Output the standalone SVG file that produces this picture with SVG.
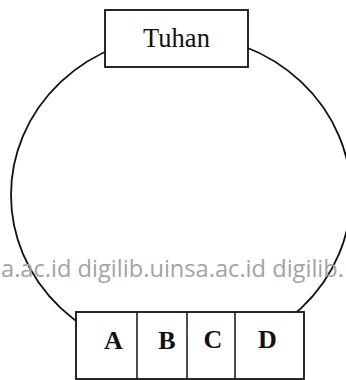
<svg xmlns="http://www.w3.org/2000/svg" width="346" height="380" viewBox="0 0 346 380">
<style>
.ln{fill:none;stroke:#111;stroke-width:1.8}
.bx{fill:#fff;stroke:#111;stroke-width:1.8}
.dv{stroke:#111;stroke-width:1.5}
.t{font-family:"Liberation Serif","Times New Roman",serif;fill:#111;text-anchor:middle}
.lb{font-size:26px;font-weight:bold}
.wm{font-family:"Open Sans","Noto Sans",sans-serif;font-size:23.5px;fill:#a3a3a3}
</style>
<rect width="346" height="380" fill="#fff"/>
<g id="connectors">
<ellipse class="ln" cx="181" cy="195" rx="170" ry="160"/>
</g>
<text class="wm" x="1" y="277" textLength="343" lengthAdjust="spacingAndGlyphs">a.ac.id digilib.uinsa.ac.id digilib.</text>
<g id="tuhan">
<rect class="bx" x="105" y="10" width="143" height="57"/>
<text class="t" x="176.5" y="47" font-size="26.5">Tuhan</text>
</g>
<g id="abcd">
<rect class="bx" x="76" y="312" width="228" height="67"/>
<line class="dv" x1="137" y1="312" x2="137" y2="379"/>
<line class="dv" x1="187" y1="312" x2="187" y2="379"/>
<line class="dv" x1="235" y1="312" x2="235" y2="379"/>
<text class="t lb" x="113.5" y="349">A</text>
<text class="t lb" x="167" y="349">B</text>
<text class="t lb" x="213" y="348">C</text>
<text class="t lb" x="267.5" y="348">D</text>
</g>
</svg>
